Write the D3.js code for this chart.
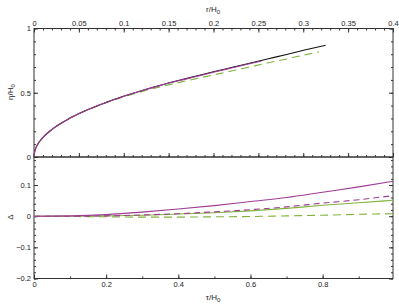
<!DOCTYPE html>
<html lang="en">
<head>
<meta charset="UTF-8">
<title>eta and Delta vs tau</title>
<script src="https://cdnjs.cloudflare.com/ajax/libs/d3/7.9.0/d3.min.js"></script>
<style>
  body { margin: 0; background: #fff; font-family: 'Liberation Sans', 'DejaVu Sans', sans-serif; }
  svg { display: block; }
  .axis text { font-size: 7.5px; fill: #222; font-family: 'Liberation Sans', sans-serif; }
  .axis path, .axis line { stroke: #333; }
  .lbl { font-size: 8px; fill: #222; }
</style>
</head>
<body>
<div id="root"></div>
<script>
// top panel: eta/H0 against tau/H0
const tauTop = [0, 0.002, 0.005, 0.01, 0.02, 0.05, 0.1, 0.15, 0.2, 0.25, 0.3, 0.35, 0.4, 0.45, 0.5, 0.55, 0.6, 0.65, 0.7, 0.75, 0.808]
const etaBlack = [0, 0.045, 0.07, 0.097, 0.137, 0.215, 0.303, 0.37, 0.425, 0.474, 0.518, 0.558, 0.595, 0.63, 0.665, 0.698, 0.732, 0.765, 0.798, 0.832, 0.869]
const tauMagTop = [0, 0.002, 0.005, 0.01, 0.02, 0.05, 0.1, 0.15, 0.2, 0.25, 0.3, 0.35, 0.4, 0.45, 0.5, 0.55, 0.6, 0.63]
const etaMagenta = [0, 0.045, 0.07, 0.097, 0.137, 0.215, 0.303, 0.37, 0.424, 0.473, 0.517, 0.556, 0.593, 0.627, 0.661, 0.694, 0.727, 0.746]
const tauGreenTop = [0, 0.002, 0.005, 0.01, 0.02, 0.05, 0.1, 0.15, 0.2, 0.25, 0.3, 0.35, 0.4, 0.45, 0.5, 0.55, 0.6, 0.65, 0.7, 0.75, 0.79]
const etaGreen = [0, 0.045, 0.07, 0.097, 0.137, 0.215, 0.303, 0.369, 0.423, 0.47, 0.51, 0.546, 0.579, 0.61, 0.641, 0.671, 0.702, 0.733, 0.763, 0.795, 0.818]

// bottom panel: Delta against tau/H0
const tauBot = [0, 0.1, 0.2, 0.3, 0.4, 0.5, 0.6, 0.7, 0.8, 0.9, 0.995]
const dMagSolid = [0, 0.001, 0.005, 0.013, 0.023, 0.034, 0.047, 0.06, 0.077, 0.094, 0.112]
const dMagDash = [0, 0, 0.001, 0.004, 0.008, 0.014, 0.021, 0.03, 0.042, 0.053, 0.066]
const dGreenSolid = [0, 0, 0.001, 0.003, 0.007, 0.011, 0.017, 0.025, 0.035, 0.043, 0.051]
const dGreenDash = [0, -0.001, -0.002, -0.003, -0.003, -0.002, -0.001, 0.001, 0.003, 0.006, 0.008]

const W = 399, H = 307
const left = 34, right = 393
const topY = 28.5, midY = 157, botY = 278.5
const magenta = '#a03c96', green = '#82b33a'

const svg = d3.select('#root').append('svg').attr('width', W).attr('height', H)

const x = d3.scaleLinear().domain([0, 0.995]).range([left, right])
const xr = d3.scaleLinear().domain([0, 0.4]).range([left, right])
const yTop = d3.scaleLinear().domain([0, 1]).range([midY, topY])
const yBot = d3.scaleLinear().domain([-0.2, 0.19]).range([botY, midY])

const fmt = d => d === 0 ? '0' : d3.format('')(+d.toFixed(3)).replace('-', '\u2212')

function ax(gen, tr, vals, size, labels) {
  const g = svg.append('g').attr('class', 'axis').attr('transform', tr)
    .call(gen.tickValues(vals).tickSizeInner(size).tickSizeOuter(0).tickPadding(3)
      .tickFormat(labels ? fmt : ''))
  g.select('.domain').remove()
  return g
}
const rng = (a, b, s) => d3.range(Math.round((b - a) / s) + 1).map(i => +(a + i * s).toFixed(4))

// top panel ticks
ax(d3.axisTop(xr), `translate(0,${topY})`, rng(0, 0.4, 0.01), -2, false)
ax(d3.axisTop(xr), `translate(0,${topY})`, rng(0, 0.4, 0.05), -4, true)
ax(d3.axisBottom(xr), `translate(0,${midY})`, rng(0, 0.4, 0.01), -2, false)
ax(d3.axisBottom(xr), `translate(0,${midY})`, rng(0, 0.4, 0.05), -4, false)
ax(d3.axisLeft(yTop), `translate(${left},0)`, rng(0, 1, 0.1), -2, false)
ax(d3.axisLeft(yTop), `translate(${left},0)`, [0, 0.5, 1], -4, true)
ax(d3.axisRight(yTop), `translate(${right},0)`, rng(0, 1, 0.1), -2, false)
ax(d3.axisRight(yTop), `translate(${right},0)`, [0, 0.5, 1], -4, false)

// bottom panel ticks
ax(d3.axisBottom(x), `translate(0,${botY})`, rng(0, 0.9, 0.1), -2, false)
ax(d3.axisBottom(x), `translate(0,${botY})`, rng(0, 0.8, 0.2), -4, true)
ax(d3.axisLeft(yBot), `translate(${left},0)`, rng(-0.2, 0.18, 0.02), -2, false)
ax(d3.axisLeft(yBot), `translate(${left},0)`, [-0.2, -0.1, 0, 0.1], -4, true)
ax(d3.axisRight(yBot), `translate(${right},0)`, rng(-0.2, 0.18, 0.02), -2, false)
ax(d3.axisRight(yBot), `translate(${right},0)`, [-0.2, -0.1, 0, 0.1], -4, false)

// frames
svg.append('rect').attr('x', left).attr('y', topY).attr('width', right - left).attr('height', midY - topY)
  .attr('fill', 'none').attr('stroke', '#333').attr('stroke-width', 1)
svg.append('rect').attr('x', left).attr('y', midY).attr('width', right - left).attr('height', botY - midY)
  .attr('fill', 'none').attr('stroke', '#333').attr('stroke-width', 1)

function curve(xs, ys, yS, color, dash) {
  const line = d3.line().x((d, i) => x(xs[i])).y(d => yS(d)).curve(d3.curveMonotoneX)
  svg.append('path').datum(ys).attr('d', line).attr('fill', 'none')
    .attr('stroke', color).attr('stroke-width', 1.1)
    .attr('stroke-dasharray', dash || null)
}

curve(tauGreenTop, etaGreen, yTop, green, '8,5')
curve(tauTop, etaBlack, yTop, '#111')
curve(tauMagTop, etaMagenta, yTop, magenta)

curve(tauBot, dGreenDash, yBot, green, '8,5')
curve(tauBot, dGreenSolid, yBot, green)
curve(tauBot, dMagDash, yBot, magenta, '6,4')
curve(tauBot, dMagSolid, yBot, magenta)

// axis titles
function sub(main, s, px, py, rot) {
  const el = svg.append('text').attr('class', 'lbl').attr('text-anchor', 'middle')
    .attr('transform', `translate(${px},${py})` + (rot ? ` rotate(${rot})` : ''))
  el.append('tspan').text(main)
  if (s) el.append('tspan').attr('dy', 2).attr('font-size', 6).text(s)
  return el
}
sub('r/H', '0', 213, 12)
sub('\u03c4/H', '0', 213, 300)
sub('\u03b7/H', '0', 13, 92, -90)
sub('\u0394', null, 13, 217, -90)
</script>
</body>
</html>
